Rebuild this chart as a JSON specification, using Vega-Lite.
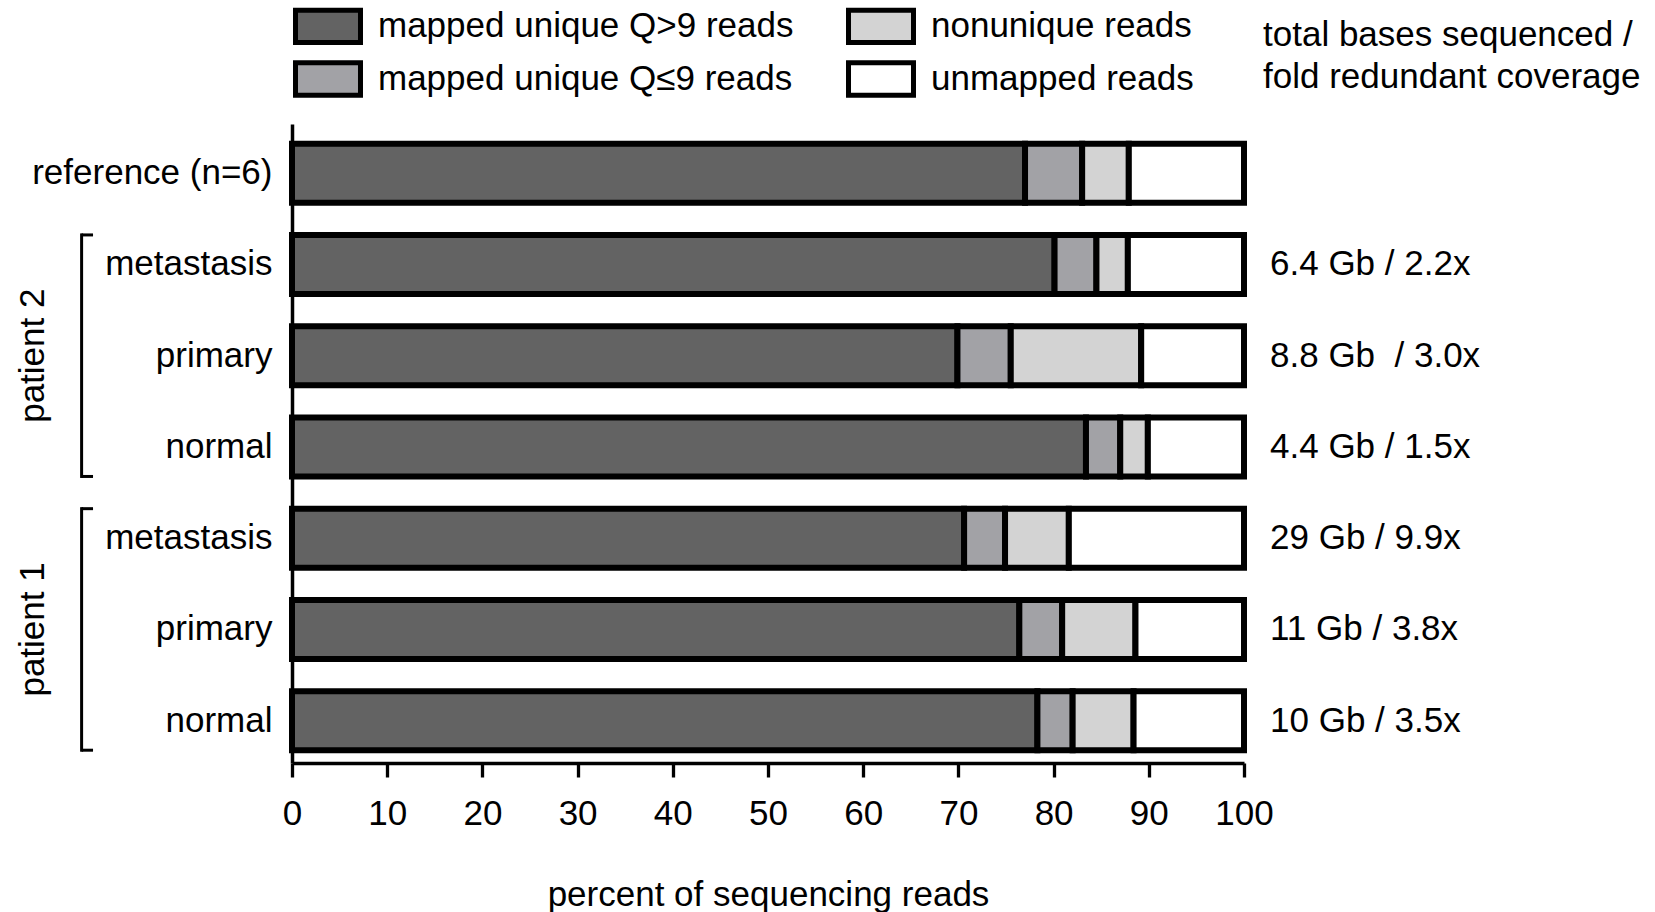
{
  "$schema": "https://vega.github.io/schema/vega-lite/v6.json",
  "width": 952,
  "height": 639,
  "autosize": {"type": "none"},
  "padding": {"left": 292, "top": 124, "right": 411, "bottom": 149},
  "background": "white",
  "config": {"font": "Liberation Sans", "view": {"stroke": null}, "text": {"font": "Liberation Sans"}},
  "title": {
    "text": ["total bases sequenced /", "fold redundant coverage"],
    "anchor": "start", "frame": "group", "align": "left", "dx": 971,
    "fontSize": 35, "fontWeight": "normal", "color": "black", "lineHeight": 42,
    "baseline": "top", "offset": 0, "dy": 88, "font": "Liberation Sans"
  },
  "datasets": {
    "segments": [
      {"row": "reference (n=6)", "cat": "mapped unique Q>9 reads", "k": 1, "pct": 77.0},
      {"row": "reference (n=6)", "cat": "mapped unique Q≤9 reads", "k": 2, "pct": 6.0},
      {"row": "reference (n=6)", "cat": "nonunique reads", "k": 3, "pct": 4.9},
      {"row": "reference (n=6)", "cat": "unmapped reads", "k": 4, "pct": 12.1},
      {"row": "metastasis|2", "cat": "mapped unique Q>9 reads", "k": 1, "pct": 80.1},
      {"row": "metastasis|2", "cat": "mapped unique Q≤9 reads", "k": 2, "pct": 4.4},
      {"row": "metastasis|2", "cat": "nonunique reads", "k": 3, "pct": 3.3},
      {"row": "metastasis|2", "cat": "unmapped reads", "k": 4, "pct": 12.2},
      {"row": "primary|2", "cat": "mapped unique Q>9 reads", "k": 1, "pct": 69.9},
      {"row": "primary|2", "cat": "mapped unique Q≤9 reads", "k": 2, "pct": 5.6},
      {"row": "primary|2", "cat": "nonunique reads", "k": 3, "pct": 13.7},
      {"row": "primary|2", "cat": "unmapped reads", "k": 4, "pct": 10.8},
      {"row": "normal|2", "cat": "mapped unique Q>9 reads", "k": 1, "pct": 83.4},
      {"row": "normal|2", "cat": "mapped unique Q≤9 reads", "k": 2, "pct": 3.6},
      {"row": "normal|2", "cat": "nonunique reads", "k": 3, "pct": 2.9},
      {"row": "normal|2", "cat": "unmapped reads", "k": 4, "pct": 10.1},
      {"row": "metastasis|1", "cat": "mapped unique Q>9 reads", "k": 1, "pct": 70.6},
      {"row": "metastasis|1", "cat": "mapped unique Q≤9 reads", "k": 2, "pct": 4.3},
      {"row": "metastasis|1", "cat": "nonunique reads", "k": 3, "pct": 6.7},
      {"row": "metastasis|1", "cat": "unmapped reads", "k": 4, "pct": 18.4},
      {"row": "primary|1", "cat": "mapped unique Q>9 reads", "k": 1, "pct": 76.4},
      {"row": "primary|1", "cat": "mapped unique Q≤9 reads", "k": 2, "pct": 4.5},
      {"row": "primary|1", "cat": "nonunique reads", "k": 3, "pct": 7.7},
      {"row": "primary|1", "cat": "unmapped reads", "k": 4, "pct": 11.4},
      {"row": "normal|1", "cat": "mapped unique Q>9 reads", "k": 1, "pct": 78.3},
      {"row": "normal|1", "cat": "mapped unique Q≤9 reads", "k": 2, "pct": 3.7},
      {"row": "normal|1", "cat": "nonunique reads", "k": 3, "pct": 6.4},
      {"row": "normal|1", "cat": "unmapped reads", "k": 4, "pct": 11.6}
    ],
    "labels": [
      {"row": "metastasis|2", "text": "6.4 Gb / 2.2x"},
      {"row": "primary|2", "text": "8.8 Gb\u00a0 / 3.0x"},
      {"row": "normal|2", "text": "4.4 Gb / 1.5x"},
      {"row": "metastasis|1", "text": "29 Gb / 9.9x"},
      {"row": "primary|1", "text": "11 Gb / 3.8x"},
      {"row": "normal|1", "text": "10 Gb / 3.5x"}
    ],
    "brackets": [
      {"p": "patient 2", "top": "metastasis|2", "mid": "primary|2", "bot": "normal|2", "bx": -22.1, "sx": -20.9, "tx": -27.2},
      {"p": "patient 1", "top": "metastasis|1", "mid": "primary|1", "bot": "normal|1", "bx": -22.1, "sx": -20.9, "tx": -27.2}
    ]
  },
  "layer": [
    {
      "data": {"name": "segments"},
      "mark": {"type": "bar", "stroke": "black", "strokeWidth": 6, "strokeJoin": "miter"},
      "encoding": {
        "y": {
          "field": "row", "type": "nominal", "sort": null,
          "scale": {
            "domain": ["reference (n=6)", "metastasis|2", "primary|2", "normal|2", "metastasis|1", "primary|1", "normal|1"],
            "paddingInner": 0.353, "paddingOuter": 0.178, "align": 0.606
          },
          "axis": {
            "title": null, "ticks": false, "labelFontSize": 35, "labelColor": "black", "labelPadding": 20,
            "domainColor": "black", "domainWidth": 3.5, "labelExpr": "split(datum.label, '|')[0]", "labelLimit": 0
          }
        },
        "x": {
          "field": "pct", "type": "quantitative", "stack": "zero",
          "scale": {"domain": [0, 100], "nice": false},
          "axis": {
            "title": "percent of sequencing reads",
            "values": [0, 10, 20, 30, 40, 50, 60, 70, 80, 90, 100],
            "grid": false, "tickSize": 14, "tickWidth": 3.3, "tickColor": "black",
            "domainColor": "black", "domainWidth": 3.5, "labelFontSize": 35, "labelColor": "black",
            "labelPadding": 19, "labelFlush": false, "titleFontSize": 35, "titleFontWeight": "normal",
            "titleColor": "black", "titlePadding": 46
          }
        },
        "color": {
          "field": "cat", "type": "nominal",
          "scale": {
            "domain": ["mapped unique Q>9 reads", "mapped unique Q≤9 reads", "nonunique reads", "unmapped reads"],
            "range": ["#636363", "#a2a2a6", "#d3d3d3", "#ffffff"]
          },
          "legend": {
            "orient": "none", "legendX": 17, "legendY": -117, "columns": 2, "direction": "vertical",
            "symbolType": "M-2,-1H2V1H-2Z", "symbolSize": 1056,
            "symbolStrokeColor": "black", "symbolStrokeWidth": 5, "symbolOpacity": 1,
            "labelFontSize": 35, "labelColor": "black", "labelOffset": 31,
            "rowPadding": -1, "columnPadding": 44, "title": null, "labelLimit": 0
          }
        },
        "order": {"field": "k", "type": "quantitative"}
      }
    },
    {
      "data": {"name": "labels"},
      "mark": {"type": "text", "align": "left", "baseline": "middle", "dx": 26, "fontSize": 35, "color": "black"},
      "encoding": {
        "y": {"field": "row", "type": "nominal"},
        "x": {"datum": 100, "type": "quantitative"},
        "text": {"field": "text"}
      }
    },
    {
      "data": {"name": "brackets"},
      "mark": {"type": "rule", "strokeWidth": 3, "color": "black", "strokeCap": "square"},
      "encoding": {
        "x": {"field": "bx", "type": "quantitative"},
        "y": {"field": "top", "type": "nominal", "bandPosition": 0},
        "y2": {"field": "bot", "bandPosition": 1}
      }
    },
    {
      "data": {"name": "brackets"},
      "mark": {"type": "rule", "strokeWidth": 3, "color": "black"},
      "encoding": {
        "x": {"field": "bx", "type": "quantitative"},
        "x2": {"field": "sx"},
        "y": {"field": "top", "type": "nominal", "bandPosition": 0}
      }
    },
    {
      "data": {"name": "brackets"},
      "mark": {"type": "rule", "strokeWidth": 3, "color": "black"},
      "encoding": {
        "x": {"field": "bx", "type": "quantitative"},
        "x2": {"field": "sx"},
        "y": {"field": "bot", "type": "nominal", "bandPosition": 1}
      }
    },
    {
      "data": {"name": "brackets"},
      "mark": {"type": "text", "angle": 270, "fontSize": 35, "align": "center", "baseline": "middle", "color": "black"},
      "encoding": {
        "x": {"field": "tx", "type": "quantitative"},
        "y": {"field": "mid", "type": "nominal"},
        "text": {"field": "p"}
      }
    }
  ]
}
